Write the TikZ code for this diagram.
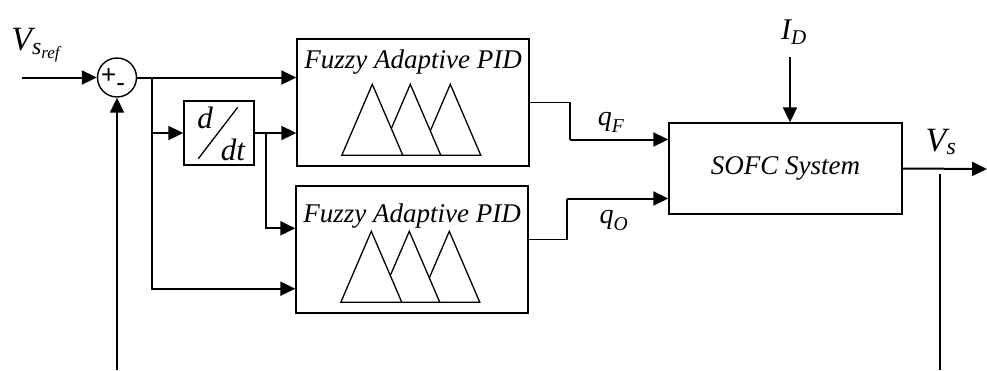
\documentclass[tikz,border=0pt]{standalone}
\usepackage{amsmath}
\usepackage{fontspec}
\setmainfont{Liberation Serif}
\newfontfamily\signfont{Liberation Sans}
\usetikzlibrary{arrows.meta,positioning,calc}
\tikzset{
    block/.style={rectangle, draw, line width=1.4pt, inner sep=0pt},
    fuzzy/.style={block, minimum width=232pt, minimum height=127pt},
    line/.style={draw, -{Triangle[length=15pt,width=14pt]}, line width=2pt},
    wire/.style={draw, line width=1.5pt},
    tri/.style={draw, fill=white, line width=1.3pt, line join=miter},
    txt/.style={font=\fontsize{27}{30}\selectfont\itshape, inner sep=0pt},
    sig/.style={font=\fontsize{#1}{#1}\selectfont, inner sep=0pt},
    sig/.default=26
}

\begin{document}
\begin{tikzpicture}[x=1pt, y=-1pt]
  \useasboundingbox (0,0) rectangle (987,370);
  % blocks
  \node [block, circle, minimum size=39pt] (sum) at (117,77.5) {};
  \node [font=\fontsize{26}{28}\selectfont\signfont, inner sep=0pt] (signs) at (113,80)
        {+\raisebox{-8pt}{-}};
  \node [block, minimum width=70pt, minimum height=64pt] (ddt) at (219,133) {};
  \node [fuzzy] (fuzzyF) at (413,102.5) {};
  \node [fuzzy] (fuzzyO) at (412,249.5) {};
  \node [block, txt, minimum width=233pt, minimum height=91pt] (sofc) at (785.5,168.5) {SOFC System};
  \node [txt, below=11pt of fuzzyF.north] (titleF) {Fuzzy Adaptive PID};
  \node [txt, below=18pt of fuzzyO.north] (titleO) {Fuzzy Adaptive PID};

  % d/dt
  \node [font=\fontsize{31}{33}\selectfont\itshape, inner sep=0pt] (dnum) at (205,118) {d};
  \node [font=\fontsize{31}{33}\selectfont\itshape, inner sep=0pt] (dden) at (233,150) {dt};
  \draw [line width=1.3pt] ($(ddt.north east)+(-17,7)$) -- ($(ddt.south west)+(15,-7)$);

  % membership triangles
  \foreach \blk in {fuzzyF, fuzzyO}
    \foreach \dx in {154,114,76}
      \draw [tri] ($(\blk.north west)+(\dx-30.5,117)$) -- ($(\blk.north west)+(\dx,46)$)
                  -- ($(\blk.north west)+(\dx+30.5,117)$) -- cycle;

  % signals
  \node [sig=34] (Vref) at (36,45) {$\textit{V}_{\textit{s}_{\textit{ref}}}$};
  \node [sig=30] (ID) at (794,32) {$\textit{I}_{\textit{D}}$};
  \node [sig=28] (qF) at (611,122) {$\textit{q}_{\textit{F}}$};
  \node [sig=28] (qO) at (614,220) {$\textit{q}_{\textit{O}}$};
  \node [sig=34] (Vs) at (941,142) {$\textit{V}_{\textit{s}}$};

  \coordinate (vin) at (22,77.5);
  \coordinate (fbL) at (117,370);
  \coordinate (br1) at (152,77.5);
  \coordinate (br2) at (266,133);
  \coordinate (bendF) at (570,139.5);
  \coordinate (bendO) at (567,198.5);
  \coordinate (idTop) at (790,57);
  \coordinate (vout) at (987,169);
  \coordinate (fbTop) at (940,174);
  \coordinate (fbR) at (940,370);

  % connectors
  \draw[line] (vin) -- (sum.west);
  \draw[line] (fbL) -- (sum.south);
  \draw[line] (sum.east) -- (sum.east -| fuzzyF.west);
  \draw[line] (br1) |- ($(fuzzyO.south west)+(0,-25)$);
  \draw[line] (br1 |- ddt.west) -- (ddt.west);
  \draw[line] (ddt.east) -- (ddt.east -| fuzzyF.west);
  \draw[line] (br2) |- ($(fuzzyO.north west)+(0,43)$);
  \draw[wire] (fuzzyF.east) -| (bendF);
  \draw[line] (bendF) -- (bendF -| sofc.west);
  \draw[wire] ($(fuzzyO.east)+(0,-10)$) -| (bendO);
  \draw[line] (bendO) -- (bendO -| sofc.west);
  \draw[line] (idTop) -- (idTop |- sofc.north);
  \draw[line] (sofc.east) -- (vout);
  \draw[wire] (fbR) -- (fbTop);
\end{tikzpicture}
\end{document}
